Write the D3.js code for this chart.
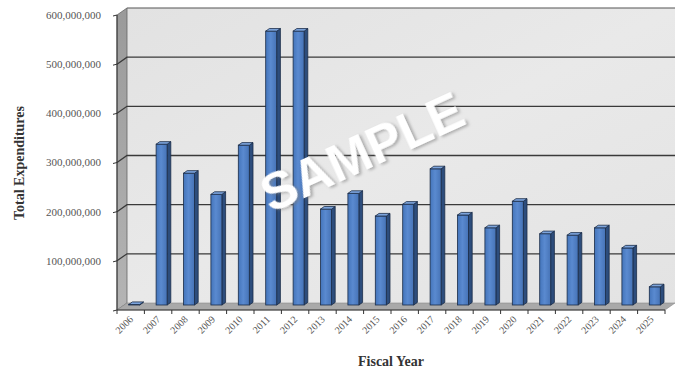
<!DOCTYPE html>
<html>
<head>
<meta charset="utf-8">
<script src="https://cdn.jsdelivr.net/npm/d3@7"></script>
<style>
  html, body { margin: 0; padding: 0; background: #fff; }
  svg { display: block; }
</style>
</head>
<body>
<svg id="chart" width="681" height="371"></svg>
<script>
// Fiscal years and total expenditures per year
const years = ["2006","2007","2008","2009","2010","2011","2012","2013","2014","2015",
               "2016","2017","2018","2019","2020","2021","2022","2023","2024","2025"];
const expenditures = [1000000, 327000000, 268000000, 225000000, 325000000, 557000000, 557000000,
                      195000000, 227000000, 181000000, 205000000, 277000000, 183000000, 157000000,
                      211000000, 145000000, 142000000, 157000000, 116000000, 37000000];
const yTicks = [100000000, 200000000, 300000000, 400000000, 500000000, 600000000];
const yTitle = "Total Expenditures";
const xTitle = "Fiscal Year";
const watermark = "SAMPLE";

const svg = d3.select("#chart");
const defs = svg.append("defs");

// Oblique 3D depth: the back wall sits up and to the right of the front plane
const depthX = 10, depthY = -7;
// Bars sit between the front edge and the back wall
const barDx = -6.5, barDy = 2;
const barW = 11, barDepthX = 3.7, barDepthY = -2.6;

// Front-plane category scale; back plane is shifted by the depth offset
const x = d3.scaleBand().domain(years).range([117, 665]).padding(0);
// Value scale measured on the back wall
const y = d3.scaleLinear().domain([0, 600000000]).range([303, 8]);

const backL = x.range()[0] + depthX, backR = x.range()[1] + depthX;
const y0 = y(0), yTop = y(600000000);

// Gradients
const wallGrad = defs.append("linearGradient").attr("id", "wall").attr("x1", 0).attr("y1", 0).attr("x2", 1).attr("y2", 1);
wallGrad.append("stop").attr("offset", 0).attr("stop-color", "#e2e2e2");
wallGrad.append("stop").attr("offset", 0.5).attr("stop-color", "#e9e9e9");
wallGrad.append("stop").attr("offset", 1).attr("stop-color", "#e3e3e3");

const sideGrad = defs.append("linearGradient").attr("id", "side").attr("x1", 0).attr("y1", 0).attr("x2", 0).attr("y2", 1);
sideGrad.append("stop").attr("offset", 0).attr("stop-color", "#9a9a9a");
sideGrad.append("stop").attr("offset", 1).attr("stop-color", "#b4b4b4");

const faceGrad = defs.append("linearGradient").attr("id", "face").attr("x1", 0).attr("y1", 0).attr("x2", 1).attr("y2", 0);
faceGrad.append("stop").attr("offset", 0).attr("stop-color", "#4475bb");
faceGrad.append("stop").attr("offset", 0.45).attr("stop-color", "#5a8ad0");
faceGrad.append("stop").attr("offset", 1).attr("stop-color", "#4673b6");

const shadow = defs.append("filter").attr("id", "wmShadow").attr("x", "-20%").attr("y", "-40%").attr("width", "140%").attr("height", "180%");
shadow.append("feDropShadow").attr("dx", 2).attr("dy", 2).attr("stdDeviation", 1.6)
  .attr("flood-color", "#777").attr("flood-opacity", 0.55);

// Back wall
svg.append("rect")
  .attr("x", backL).attr("y", yTop)
  .attr("width", backR - backL).attr("height", y0 - yTop)
  .attr("fill", "url(#wall)");
svg.append("line")
  .attr("x1", backL).attr("x2", backR).attr("y1", yTop).attr("y2", yTop)
  .attr("stroke", "#555").attr("stroke-width", 1.2);

// Left side wall
svg.append("path")
  .attr("d", `M${backL},${yTop} L${backL - depthX},${yTop - depthY} L${backL - depthX},${y0 - depthY} L${backL},${y0} Z`)
  .attr("fill", "url(#side)").attr("stroke", "#666").attr("stroke-width", 0.8);

// Gridlines across the back wall and down the side wall
const grid = svg.append("g");
yTicks.filter(t => t < 600000000).forEach(t => {
  grid.append("path")
    .attr("d", `M${backL - depthX},${y(t) - depthY} L${backL},${y(t)} L${backR},${y(t)}`)
    .attr("fill", "none").attr("stroke", "#3a3a3a").attr("stroke-width", 1.3);
});

// Floor slab
svg.append("path")
  .attr("d", `M${backL},${y0} L${backR},${y0} L${backR - depthX},${y0 - depthY} L${backL - depthX},${y0 - depthY} Z`)
  .attr("fill", "#a9a9a9").attr("stroke", "#8a8a8a").attr("stroke-width", 0.6);

// Value axis: front edge of the side wall with ticks and labels
const yAxis = svg.append("g");
yAxis.append("line")
  .attr("x1", backL - depthX).attr("x2", backL - depthX)
  .attr("y1", yTop - depthY).attr("y2", y0 - depthY)
  .attr("stroke", "#333").attr("stroke-width", 1);
[0, ...yTicks].forEach(t => {
  yAxis.append("line")
    .attr("x1", backL - depthX - 4).attr("x2", backL - depthX)
    .attr("y1", y(t) - depthY + 1).attr("y2", y(t) - depthY)
    .attr("stroke", "#333").attr("stroke-width", 1);
});
yAxis.selectAll("text.ylab").data(yTicks).join("text")
  .attr("class", "ylab")
  .attr("x", 101)
  .attr("y", d => y(d) - depthY)
  .attr("dy", "0.35em")
  .attr("text-anchor", "end")
  .attr("font-family", "'Liberation Serif', 'Times New Roman', serif")
  .attr("font-size", 11)
  .attr("fill", "#555")
  .text(d => d3.format(",")(d));

// Category axis along the front edge of the floor
const xAxis = svg.append("g");
const frontY = y0 - depthY;
xAxis.append("line")
  .attr("x1", x.range()[0]).attr("x2", x.range()[1])
  .attr("y1", frontY).attr("y2", frontY)
  .attr("stroke", "#333").attr("stroke-width", 1);
const boundaries = years.map(d => x(d)).concat([x.range()[1]]);
xAxis.selectAll("line.xt").data(boundaries).join("line")
  .attr("class", "xt")
  .attr("x1", d => d).attr("x2", d => d)
  .attr("y1", frontY).attr("y2", frontY + 4)
  .attr("stroke", "#333").attr("stroke-width", 1);
xAxis.selectAll("text.xlab").data(years).join("text")
  .attr("class", "xlab")
  .attr("text-anchor", "end")
  .attr("transform", d => `translate(${x(d) + x.bandwidth() / 2 + 3},${frontY + 10}) rotate(-45)`)
  .attr("font-family", "'Liberation Serif', 'Times New Roman', serif")
  .attr("font-size", 10)
  .attr("fill", "#555")
  .text(d => d);

// Bars: front face, side face and top cap
const bars = svg.append("g");
years.forEach((yr, i) => {
  const v = expenditures[i];
  const cx = x(yr) + x.bandwidth() / 2 + depthX + barDx;
  const xl = cx - barW / 2, xr = cx + barW / 2;
  const yb = y(0) + barDy, yt = y(v) + barDy;
  const g = bars.append("g");
  g.append("path")
    .attr("d", `M${xr},${yt} L${xr + barDepthX},${yt + barDepthY} L${xr + barDepthX},${yb + barDepthY} L${xr},${yb} Z`)
    .attr("fill", "#2d4d7c").attr("stroke", "#1b2c47").attr("stroke-width", 0.8);
  g.append("rect")
    .attr("x", xl).attr("y", yt).attr("width", barW).attr("height", yb - yt)
    .attr("fill", "url(#face)").attr("stroke", "#1b2c47").attr("stroke-width", 0.8);
  g.append("path")
    .attr("d", `M${xl},${yt} L${xl + barDepthX},${yt + barDepthY} L${xr + barDepthX},${yt + barDepthY} L${xr},${yt} Z`)
    .attr("fill", "#7ca4dc").attr("stroke", "#1b2c47").attr("stroke-width", 0.8);
});

// Axis titles
svg.append("text")
  .attr("transform", "translate(24,163) rotate(-90)")
  .attr("text-anchor", "middle")
  .attr("font-family", "'Liberation Serif', 'Times New Roman', serif")
  .attr("font-weight", "bold")
  .attr("font-size", 14)
  .attr("fill", "#333")
  .text(yTitle);
svg.append("text")
  .attr("x", 391).attr("y", 366)
  .attr("text-anchor", "middle")
  .attr("font-family", "'Liberation Serif', 'Times New Roman', serif")
  .attr("font-weight", "bold")
  .attr("font-size", 14)
  .attr("fill", "#333")
  .text(xTitle);

// Watermark across the plot
svg.append("text")
  .attr("transform", "translate(362,152) rotate(-24.5)")
  .attr("text-anchor", "middle")
  .attr("dy", "0.35em")
  .attr("font-family", "'Liberation Sans', Arial, sans-serif")
  .attr("font-weight", "bold")
  .attr("font-size", 52)
  .attr("fill", "#ffffff")
  .attr("filter", "url(#wmShadow)")
  .text(watermark);
</script>
</body>
</html>
